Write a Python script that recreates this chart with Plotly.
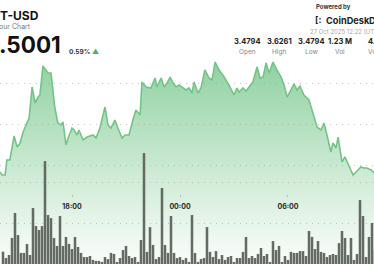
import pandas as pd
import plotly.graph_objects as go

# ---------------- data ----------------
START = pd.Timestamp("2025-10-26 14:00")
END_MIN = 1246.7  # visible window length in minutes

# price series: minutes after START, price (USD)
price_minutes = [0, 7, 17, 23, 33, 47, 57, 67, 77, 90, 97, 107, 117, 127, 133, 143, 153, 160, 170,
                 183, 193, 203, 210, 220, 227, 240, 247, 257, 263, 273, 277, 290, 300, 310, 320, 333,
                 350, 360, 370, 383, 393, 407, 417, 430, 443, 453, 467, 473, 487, 503, 517, 523, 537,
                 547, 557, 567, 577, 587, 597, 610, 620, 630, 640, 647, 660, 670, 683, 697, 707, 717,
                 730, 743, 763, 780, 790, 797, 810, 820, 830, 843, 857, 867, 877, 887, 897, 910, 923,
                 937, 947, 957, 970, 980, 990, 1000, 1013, 1030, 1040, 1057, 1070, 1080, 1090, 1103,
                 1110, 1120, 1127, 1140, 1150, 1163, 1177, 1187, 1203, 1213, 1223, 1237, 1247]
prices = [3.4915, 3.4878, 3.4878, 3.5061, 3.5061, 3.5354, 3.5220, 3.5268, 3.5402, 3.5512, 3.5573,
          3.5951, 3.5756, 3.5829, 3.5854, 3.6207, 3.6159, 3.6122, 3.6122, 3.5695, 3.5512, 3.5488,
          3.5524, 3.5244, 3.5329, 3.5451, 3.5427, 3.5366, 3.5427, 3.5341, 3.5305, 3.5341, 3.5354,
          3.5366, 3.5329, 3.5451, 3.5707, 3.5488, 3.5451, 3.5549, 3.5451, 3.5329, 3.5366, 3.5366,
          3.5549, 3.5671, 3.5610, 3.6012, 3.5951, 3.5939, 3.6061, 3.5951, 3.6061, 3.5951, 3.6000,
          3.6073, 3.6000, 3.5951, 3.5976, 3.5939, 3.5915, 3.5939, 3.5878, 3.6012, 3.5878, 3.5939,
          3.6159, 3.6061, 3.6037, 3.6256, 3.6159, 3.6098, 3.5976, 3.5854, 3.5939, 3.5890, 3.5939,
          3.5902, 3.5951, 3.6012, 3.6195, 3.6061, 3.6073, 3.6244, 3.6122, 3.6256, 3.6159, 3.6073,
          3.5976, 3.5829, 3.5915, 3.5988, 3.5915, 3.5963, 3.5854, 3.5793, 3.5671, 3.5463, 3.5427,
          3.5512, 3.5366, 3.5159, 3.5268, 3.5207, 3.5341, 3.5037, 3.5098, 3.5000, 3.4878, 3.4915,
          3.4976, 3.4963, 3.4963, 3.4939, 3.4902]

# volume bars, one every 10 minutes starting 14:10 (thousands)
volumes = [6.0, 2.9, 4.4, 12.7, 24.9, 14.1, 5.4, 5.4, 9.8, 4.4,
           27.3, 18.5, 16.6, 18.5, 50.2, 23.9, 22.4, 12.7, 8.8, 23.4,
           8.8, 13.2, 9.8, 7.3, 13.2, 8.3, 5.4, 3.4, 3.4, 3.9,
           2.0, 1.5, 1.5, 1.0, 3.4, 2.4, 5.4, 4.9, 1.0, 2.9,
           6.8, 8.8, 3.9, 2.9, 3.4, 1.0, 11.7, 54.1, 5.9, 18.0,
           9.3, 2.4, 3.4, 37.1, 9.3, 5.4, 23.4, 5.4, 2.9, 3.4,
           2.0, 2.9,
           1.0, 23.9, 5.4, 1.0, 2.4, 2.9, 18.0, 5.9, 3.4, 6.3,
           2.4, 4.4, 2.0, 3.4, 3.9, 1.0, 2.9, 2.9, 5.9, 13.2,
           2.9, 3.9, 2.9, 4.9, 7.8, 3.9, 4.9, 1.0, 11.2, 6.8,
           8.8, 1.0, 3.9, 2.0, 5.9, 5.4, 5.4, 6.3, 6.3, 3.9,
           16.1, 13.2, 7.3, 11.2, 5.9, 5.4, 3.4, 4.4, 4.9, 4.4,
           10.2, 16.1, 12.7, 4.4, 12.7, 2.0, 4.9, 31.2, 23.4, 3.4,
           13.2, 20.0, 6.8]
VOL_FIRST = pd.Timestamp("2025-10-26 14:10")
VOL_STEP_MIN = 10

tick_times = ["2025-10-26 18:00", "2025-10-27 00:00", "2025-10-27 06:00"]
tick_labels = ["18:00", "00:00", "06:00"]

price_gridvals = [3.50, 3.55, 3.60]
vol_gridvals = [20, 40]

stat_values = ["3.4794", "3.6261", "3.4794", "1.23 M", "4.31 M"]
stat_labels = ["Open", "High", "Low", "Vol", "Vol (USD)"]

# ---------------- figure ----------------
W, H = 374, 264
price_times = [START + pd.Timedelta(minutes=m) for m in price_minutes]
vol_times = [VOL_FIRST + pd.Timedelta(minutes=VOL_STEP_MIN * i) for i in range(len(volumes))]

fig = go.Figure()
fig.add_trace(go.Scatter(
    x=price_times, y=prices, mode="lines",
    line=dict(color="#74c487", width=1.6),
    fill="tozeroy",
    fillgradient=dict(type="vertical", start=3.38, stop=3.63,
                      colorscale=[[0, "rgba(120,200,140,0.04)"],
                                  [1, "rgba(105,192,128,0.75)"]]),
    hoverinfo="skip",
))
fig.add_trace(go.Bar(
    x=vol_times, y=volumes, yaxis="y2",
    marker=dict(color="#646b62", line=dict(width=0)),
    hoverinfo="skip",
))

grid = dict(showgrid=True, gridcolor="#c4c4c4", gridwidth=1.3, griddash="1px,5px",
            zeroline=False, showticklabels=False, ticks="", showline=False)

fig.update_layout(
    width=W, height=H, margin=dict(l=0, r=0, t=0, b=0),
    showlegend=False, plot_bgcolor="white", paper_bgcolor="white",
    bargap=0.15,
    font=dict(family="Inter, Roboto, sans-serif"),
    xaxis=dict(type="date", range=[START, START + pd.Timedelta(minutes=END_MIN)],
               showgrid=False, zeroline=False, showline=False,
               anchor="free", position=0.254,
               tickvals=tick_times, ticktext=tick_labels,
               ticks="inside", ticklen=2, tickcolor="#b8b8b8", tickwidth=1,
               ticklabelstandoff=4,
               tickfont=dict(size=7, color="#2a2a2a", family="Inter", weight="bold")),
    yaxis=dict(range=[3.37927, 3.70122], tickvals=price_gridvals, **grid),
    yaxis2=dict(range=[0, 128.78], overlaying="y", side="right",
                tickvals=vol_gridvals, **grid),
)


def px_ann(x, y, text, size, color, weight="normal", xanchor="left"):
    fig.add_annotation(xref="paper", yref="paper", x=x / W, y=1 - y / H,
                       text=text, showarrow=False, xanchor=xanchor, yanchor="middle",
                       borderpad=0,
                       font=dict(size=size, color=color, family="Inter", weight=weight))


px_ann(-1, 16, "T-USD", 12, "#111", "bold")
px_ann(-2, 26.5, "our Chart", 7, "#777")
px_ann(-2, 44.5, ".5001", 22.5, "#111", "bold")
px_ann(68, 51.5, "0.59%", 6.5, "#333", "bold")
px_ann(91, 51.5, "▲", 7, "#4cb35c")
px_ann(315, 6.5, "Powered by", 6, "#333", "bold")
px_ann(314, 19.5, "[:", 9, "#222", "bold")
px_ann(325, 20, "CoinDesk", 9.2, "#222", "bold")
px_ann(368, 20, "Data", 9.2, "#222", "bold")
px_ann(309, 31, "27 Oct 2025 12:22 (UTC)", 6, "#aaa")

stat_x = [247, 279, 311, 340]
for i, sx in enumerate(stat_x):
    px_ann(sx, 41.5, stat_values[i], 7.5, "#222", "bold", "center")
    px_ann(sx, 51.5, stat_labels[i], 6.5, "#888", "normal", "center")
px_ann(366.5, 41.5, stat_values[4], 7.5, "#222", "bold")
px_ann(366.5, 51.5, stat_labels[4], 6.5, "#888")

fig.write_html("out.html")
